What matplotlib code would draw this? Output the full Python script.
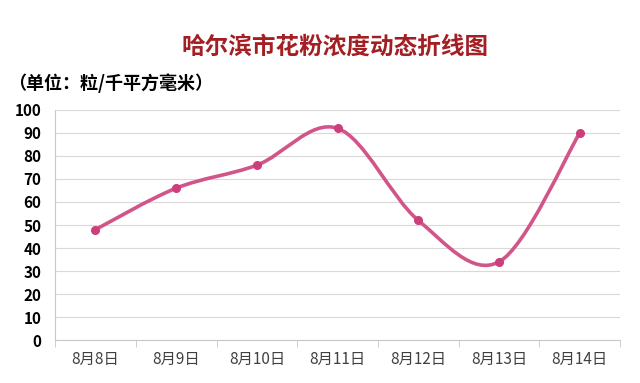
import matplotlib
matplotlib.use('Agg')
import matplotlib.pyplot as plt
from matplotlib.path import Path
from matplotlib.patches import PathPatch

plt.rcParams['font.family'] = ['Noto Sans CJK SC', 'DejaVu Sans']

# Daten
tage = ['8月8日', '8月9日', '8月10日', '8月11日', '8月12日', '8月13日', '8月14日']
pollen = [48, 66, 76, 92, 52, 34, 90]
y_ticks = [0, 10, 20, 30, 40, 50, 60, 70, 80, 90, 100]

linie = '#d2558a'
punkt = '#cc3f7a'

fig = plt.figure(figsize=(6.4, 3.83), dpi=100)
ax = fig.add_axes([0.086, 0.112, 0.883, 0.601])

# geglaettete Linie (wie Excel) als Bezier-Pfad aus den Datenpunkten
x = list(range(len(pollen)))
pts = list(zip(x, pollen))
verts = [pts[0]]
codes = [Path.MOVETO]
for i in range(len(pts) - 1):
    p0 = pts[i - 1] if i > 0 else pts[i]
    p1 = pts[i]
    p2 = pts[i + 1]
    p3 = pts[i + 2] if i + 2 < len(pts) else pts[i + 1]
    c1 = (p1[0] + (p2[0] - p0[0]) / 6, p1[1] + (p2[1] - p0[1]) / 6)
    c2 = (p2[0] - (p3[0] - p1[0]) / 6, p2[1] - (p3[1] - p1[1]) / 6)
    verts += [c1, c2, p2]
    codes += [Path.CURVE4] * 3
ax.add_patch(PathPatch(Path(verts, codes), facecolor='none', edgecolor=linie, lw=2.6, zorder=3))
ax.plot(x, pollen, 'o', color=punkt, ms=5.5, zorder=4)

ax.set_xlim(-0.5, len(tage) - 0.5)
ax.set_ylim(0, 100)
ax.set_yticks(y_ticks)
ax.set_yticklabels([str(v) for v in y_ticks], fontsize=11, fontweight='bold', color='black')
ax.set_xticks(x)
ax.set_xticklabels(tage, fontsize=11, color='#404040', fontweight='medium')
ax.set_xticks([i - 0.5 for i in range(len(tage) + 1)], minor=True)
ax.tick_params(axis='x', which='major', length=0, pad=8)
ax.tick_params(axis='x', which='minor', length=5, color='#c8c8c8')
ax.tick_params(axis='y', length=0, pad=10)

ax.grid(axis='y', color='#d9d9d9', lw=0.8)
ax.set_axisbelow(True)
for s in ['top', 'right']:
    ax.spines[s].set_visible(False)
ax.spines['left'].set_color('#c8c8c8')
ax.spines['bottom'].set_color('#c8c8c8')

fig.text(0.523, 0.877, '哈尔滨市花粉浓度动态折线图', ha='center', va='center',
         fontsize=17, color='#a31f24', fontweight='bold')
fig.text(0.012, 0.783, '（单位：粒/千平方毫米）', ha='left', va='center',
         fontsize=13, color='black', fontweight='bold')

fig.savefig('out.png', dpi=100, facecolor='white')
